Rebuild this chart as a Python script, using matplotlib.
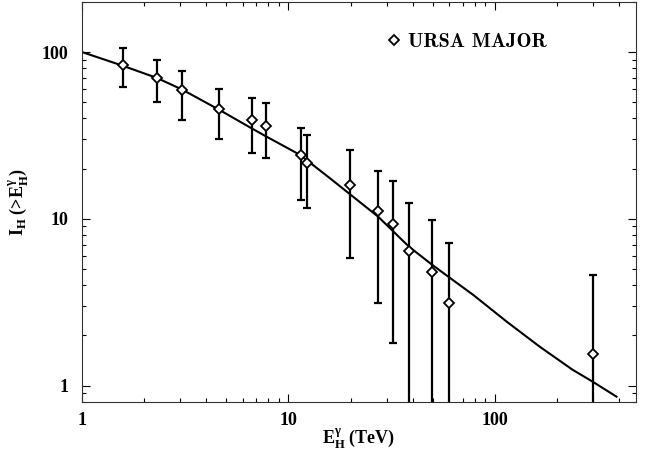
import numpy as np
import matplotlib
matplotlib.use("Agg")
import matplotlib.pyplot as plt

# measured points (energy threshold in TeV, integral intensity)
energy = [1.585, 2.316, 3.06, 4.62, 6.68, 7.76, 11.5, 12.25, 19.8,
          27.2, 32.1, 38.3, 49.7, 59.7, 298.0]
intensity = [83.1, 69.8, 58.8, 45.3, 38.9, 36.1, 24.0, 21.5, 16.0,
             11.2, 9.37, 6.40, 4.83, 3.12, 1.556]
err_top = [105.1, 89.5, 77.3, 60.2, 52.7, 49.2, 35.2, 31.6, 25.9,
           19.3, 16.9, 12.5, 9.86, 7.14, 4.61]
err_bot = [61.4, 50.1, 39.4, 30.2, 24.8, 23.0, 13.0, 11.6, 5.86,
           3.13, 1.79, 0.01, 0.01, 0.01, 0.01]

# model curve
curve_e = [1.0, 1.575, 2.316, 3.07, 4.66, 6.63, 7.76, 11.37, 15.9, 27.2,
           38.3, 49.7, 59.9, 78.5, 114, 165, 239, 296, 388]
curve_i = [100, 82.8, 69.8, 59.4, 44.8, 34.9, 31.3, 24.2, 17.5, 10.3,
           6.82, 5.30, 4.47, 3.50, 2.42, 1.71, 1.24, 1.06, 0.859]

plt.rcParams['font.family'] = ['Liberation Serif', 'DejaVu Serif']
plt.rcParams['font.weight'] = 'bold'
plt.rcParams['mathtext.fontset'] = 'custom'
plt.rcParams['mathtext.rm'] = 'Liberation Serif:bold'
plt.rcParams['mathtext.it'] = 'Liberation Serif:bold'
plt.rcParams['mathtext.bf'] = 'Liberation Serif:bold'

fig = plt.figure(figsize=(6.45, 4.53), dpi=100)
ax = fig.add_axes([0.127, 0.113, 0.859, 0.883])

e = np.array(energy)
i = np.array(intensity)
lower = i - np.array(err_bot)
upper = np.array(err_top) - i

ax.plot(curve_e, curve_i, color='black', lw=1.5, zorder=2)
ax.errorbar(e, i, yerr=[lower, upper], fmt='none', ecolor='black',
            elinewidth=1.6, capsize=3, capthick=1.6, zorder=3)
ax.plot(e, i, 'D', ms=5.5, mfc='white', mec='black', mew=1.3,
        ls='none', zorder=4, label='URSA MAJOR')

ax.set_xscale('log')
ax.set_yscale('log')
ax.set_xlim(1, 482)
ax.set_ylim(0.80, 200)

ax.set_xticks([1, 10, 100], labels=['1', '10', '100'])
ax.set_yticks([1, 10, 100], labels=['1', '10', '100'])
ax.tick_params(which='both', direction='in', top=True, right=True,
               labelsize=13, width=0.8)
ax.tick_params(which='major', length=6)
ax.tick_params(which='minor', length=3)
ax.tick_params(axis='y', pad=10)
ax.tick_params(axis='x', pad=7)
for s in ax.spines.values():
    s.set_linewidth(0.8)
    s.set_color('#333333')

ax.set_xlabel(r'$\mathrm{E}^{\gamma}_{\mathrm{H}}$ (TeV)', fontsize=13,
              fontweight='bold', labelpad=-2)
ax.set_ylabel(r'$\mathrm{I}_{\mathrm{H}}$ (>$\mathrm{E}^{\gamma}_{\mathrm{H}}$)',
              fontsize=13, fontweight='bold', labelpad=8)

leg = ax.legend(loc='center left', bbox_to_anchor=(0.552, 0.900),
                frameon=False, handlelength=0.6, handletextpad=0.4,
                markerscale=0.9, borderpad=0, borderaxespad=0,
                prop={'family': 'cmb10', 'size': 14.5})

fig.savefig('out.png', dpi=100)
